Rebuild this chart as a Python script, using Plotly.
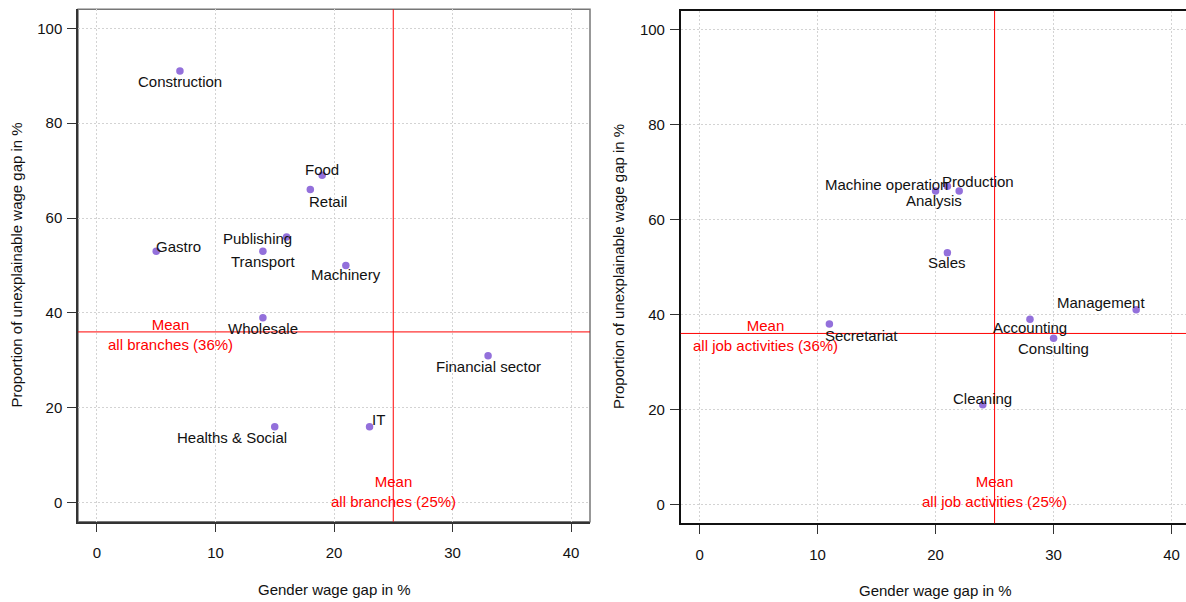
import plotly.graph_objects as go

# ---------------- data ----------------
branches = ["Construction", "Food", "Retail", "Gastro", "Publishing", "Transport",
            "Machinery", "Wholesale", "Financial sector", "Healths & Social", "IT"]
branch_gap = [7, 19, 18, 5, 16, 14, 21, 14, 33, 15, 23]
branch_unexpl = [91, 69, 66, 53, 56, 53, 50, 39, 31, 16, 16]
branch_mean_gap = 25
branch_mean_unexpl = 36

jobs = ["Analysis", "Machine operation", "Production", "Sales", "Management",
        "Secretariat", "Accounting", "Consulting", "Cleaning"]
job_gap = [20, 21, 22, 21, 37, 11, 28, 30, 24]
job_unexpl = [66, 67, 66, 53, 41, 38, 39, 35, 21]
job_mean_gap = 25
job_mean_unexpl = 36

tick_vals_x = [0, 10, 20, 30, 40]
tick_vals_y = [0, 20, 40, 60, 80, 100]

# label offsets in pixels (style only)
branch_label_shift = {
    "Construction": (0, -11), "Food": (0, 6), "Retail": (18, -12), "Gastro": (22, 5),
    "Publishing": (-29, -1), "Transport": (0, -10), "Machinery": (0, -9),
    "Wholesale": (0, -11), "Financial sector": (0, -11), "Healths & Social": (-43, -11),
    "IT": (9, 7),
}
job_label_shift = {
    "Analysis": (-2, -9), "Machine operation": (-61, 2), "Production": (19, 10),
    "Sales": (0, -10), "Management": (-35, 7), "Secretariat": (32, -12),
    "Accounting": (0, -8), "Consulting": (0, -10), "Cleaning": (0, 6),
}

W, H = 1186, 602
FONT = "Liberation Sans, Arial, Helvetica, sans-serif"
FS = 15
PURPLE = "#9370DB"
RED = "#FF0000"

fig = go.Figure()

fig.add_trace(go.Scatter(x=branch_gap, y=branch_unexpl, mode="markers",
                         marker=dict(color=PURPLE, size=7.5), xaxis="x", yaxis="y",
                         hoverinfo="text", text=branches, showlegend=False))
fig.add_trace(go.Scatter(x=job_gap, y=job_unexpl, mode="markers",
                         marker=dict(color=PURPLE, size=7.5), xaxis="x2", yaxis="y2",
                         hoverinfo="text", text=jobs, showlegend=False))

# domains in pixels
L_x = (78, 590)
L_y = (9.3, 521.7)
R_x = (680.7, 1186)
R_y = (10.7, 523.3)
px_per_unit_R = 11.8
R_xmax = -1.6 + (R_x[1] - R_x[0]) / px_per_unit_R

def xdom(p):
    return [p[0] / W, p[1] / W]

def ydom(p):
    return [(H - p[1]) / H, (H - p[0]) / H]

axis_common = dict(
    showgrid=True, gridcolor="#D3D3D3", griddash="2px,2px", gridwidth=1,
    zeroline=False, ticks="outside", ticklen=9, tickcolor="#333",
    tickfont=dict(family=FONT, size=FS, color="#111"),
    showline=True, linewidth=1.5, automargin=False,
)

fig.update_layout(
    width=W, height=H,
    margin=dict(l=0, r=0, t=0, b=0),
    paper_bgcolor="white", plot_bgcolor="white",
    font=dict(family=FONT, size=FS, color="#111"),
    xaxis=dict(domain=xdom(L_x), range=[-1.6, 41.6], tickvals=tick_vals_x,
               anchor="y", linecolor="#333", ticklabelstandoff=8, **axis_common),
    yaxis=dict(domain=ydom(L_y), range=[-4, 104], tickvals=tick_vals_y,
               anchor="x", linecolor="#333", ticklabelstandoff=2, **axis_common),
    xaxis2=dict(domain=xdom(R_x), range=[-1.6, R_xmax], tickvals=tick_vals_x,
                anchor="y2", linecolor="#111", mirror=True, ticklabelstandoff=8,
                **axis_common),
    yaxis2=dict(domain=ydom(R_y), range=[-4, 104], tickvals=tick_vals_y,
                anchor="x2", linecolor="#111", ticklabelstandoff=2, **axis_common),
    showlegend=False,
)

shapes = []
# gray box (top/right) for left panel
shapes.append(dict(type="rect", xref="x domain", yref="y domain", x0=0, x1=1, y0=0, y1=1,
                   line=dict(color="#777", width=1.5), layer="below"))
# mean lines
shapes.append(dict(type="line", xref="x", yref="y domain", x0=branch_mean_gap, x1=branch_mean_gap,
                   y0=0, y1=1, line=dict(color=RED, width=1)))
shapes.append(dict(type="line", xref="x domain", yref="y", x0=0, x1=1,
                   y0=branch_mean_unexpl, y1=branch_mean_unexpl, line=dict(color=RED, width=1)))
shapes.append(dict(type="line", xref="x2", yref="y2 domain", x0=job_mean_gap, x1=job_mean_gap,
                   y0=0, y1=1, line=dict(color=RED, width=1)))
shapes.append(dict(type="line", xref="x2 domain", yref="y2", x0=0, x1=1,
                   y0=job_mean_unexpl, y1=job_mean_unexpl, line=dict(color=RED, width=1)))
fig.update_layout(shapes=shapes)

ann = []
for name, gx, gy in zip(branches, branch_gap, branch_unexpl):
    dx, dy = branch_label_shift[name]
    ann.append(dict(x=gx, y=gy, xref="x", yref="y", text=name, showarrow=False,
                    xshift=dx, yshift=dy, xanchor="center", yanchor="middle",
                    font=dict(family=FONT, size=FS, color="#111")))
for name, gx, gy in zip(jobs, job_gap, job_unexpl):
    dx, dy = job_label_shift[name]
    ann.append(dict(x=gx, y=gy, xref="x2", yref="y2", text=name, showarrow=False,
                    xshift=dx, yshift=dy, xanchor="center", yanchor="middle",
                    font=dict(family=FONT, size=FS, color="#111")))

# mean labels
ann.append(dict(x=6.2, y=35.4, xref="x", yref="y", showarrow=False,
                text=f"Mean<br>all branches ({branch_mean_unexpl}%)",
                font=dict(family=FONT, size=FS, color=RED), align="center"))
ann.append(dict(x=branch_mean_gap, y=2.4, xref="x", yref="y", showarrow=False,
                text=f"Mean<br>all branches ({branch_mean_gap}%)",
                font=dict(family=FONT, size=FS, color=RED), align="center"))
ann.append(dict(x=5.6, y=35.6, xref="x2", yref="y2", showarrow=False,
                text=f"Mean<br>all job activities ({job_mean_unexpl}%)",
                font=dict(family=FONT, size=FS, color=RED), align="center"))
ann.append(dict(x=job_mean_gap, y=2.8, xref="x2", yref="y2", showarrow=False,
                text=f"Mean<br>all job activities ({job_mean_gap}%)",
                font=dict(family=FONT, size=FS, color=RED), align="center"))

# axis titles
xt = "Gender wage gap in %"
yt = "Proportion of unexplainable wage gap in %"
ann.append(dict(x=(L_x[0] + L_x[1]) / 2 / W, y=(H - 589) / H, xref="paper", yref="paper",
                text=xt, showarrow=False, xanchor="center", yanchor="middle",
                font=dict(family=FONT, size=FS, color="#111")))
ann.append(dict(x=(R_x[0] + 1190.5) / 2 / W, y=(H - 590) / H, xref="paper", yref="paper",
                text=xt, showarrow=False, xanchor="center", yanchor="middle",
                font=dict(family=FONT, size=FS, color="#111")))
ann.append(dict(x=16 / W, y=(H - (L_y[0] + L_y[1]) / 2) / H, xref="paper", yref="paper",
                text=yt, showarrow=False, textangle=-90, xanchor="center", yanchor="middle",
                font=dict(family=FONT, size=FS, color="#111")))
ann.append(dict(x=618 / W, y=(H - (R_y[0] + R_y[1]) / 2) / H, xref="paper", yref="paper",
                text=yt, showarrow=False, textangle=-90, xanchor="center", yanchor="middle",
                font=dict(family=FONT, size=FS, color="#111")))
fig.update_layout(annotations=ann)

fig.write_html("out.html")
